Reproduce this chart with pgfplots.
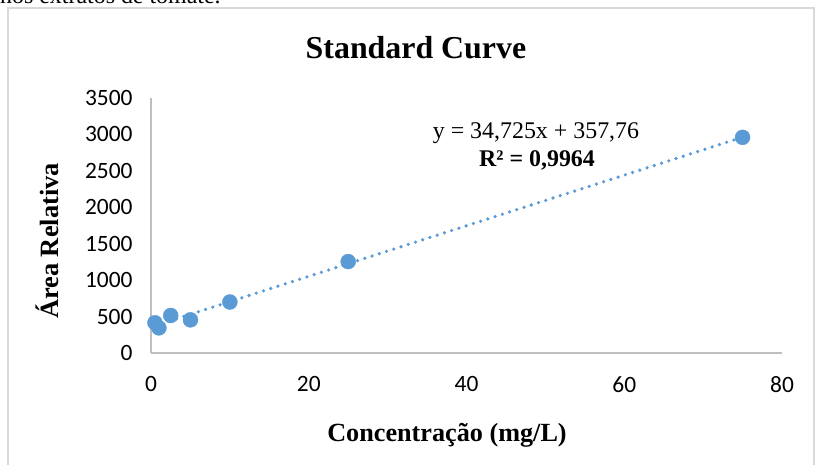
\documentclass[border=0pt]{standalone}
\usepackage{fontspec}
\setmainfont{Liberation Serif}
\newfontfamily\carlito{Carlito}
\usepackage{pgfplots}
\pgfplotsset{compat=1.18}
\definecolor{xlblue}{HTML}{5B9BD5}
\definecolor{axgray}{HTML}{BFBFBF}
\definecolor{framegray}{HTML}{D9D9D9}

\begin{document}
\begin{tikzpicture}
\begin{axis}[
  scale only axis,
  width=631bp, height=255bp,
  xmin=0, xmax=80, ymin=0, ymax=3500,
  xtick={0,20,...,80},
  ytick={0,500,...,3500},
  axis x line=bottom, axis y line=left,
  axis line style={axgray, line width=1.5bp, -},
  major tick length=0pt,
  /pgf/number format/assume math mode=true,
  /pgf/number format/1000 sep={},
  ticklabel style={font=\fontsize{23.5}{28}\selectfont\carlito, text=black},
  xticklabel style={yshift=-20bp},
  yticklabel style={xshift=-15bp},
  clip=false,
]
% trendline (Excel linear fit), drawn first so markers sit on top
\addplot[xlblue, line width=3.6bp, line cap=round,
  dash pattern=on 0pt off 7.6bp] coordinates {(0.5,375.12) (75,2962.14)};
\addplot[only marks, mark=*, mark size=7.5bp,
  mark options={fill=xlblue, draw=xlblue}] coordinates {
  (0.5,415) (1,345) (2.5,515) (5,455) (10,700) (25,1255) (75,2960)};
\end{axis}
% title, labels, equation
\node[font=\fontsize{32}{38}\selectfont\bfseries] at (265bp,305bp) {Standard Curve};
\node[font=\fontsize{26.3}{31}\selectfont\bfseries] at (296bp,-82bp) {Concentração (mg/L)};
\node[font=\fontsize{26.5}{31}\selectfont\bfseries, rotate=90] at (-104bp,112bp) {Área Relativa};
\node[font=\fontsize{24}{28}\selectfont] at (385bp,220bp) {y = 34,725x + 357,76};
\node[font=\fontsize{24}{28}\selectfont\bfseries] at (386bp,193bp) {R² = 0,9964};
% chart frame and text cut at the top
\draw[framegray, line width=1.5bp] (-143bp,-130bp) rectangle (663bp,345bp);
\node[anchor=base west, inner sep=0pt, font=\fontsize{24}{28}\selectfont] at (-151bp,349bp) {nos extratos de tomate.};
\pgfresetboundingbox
\useasboundingbox (-151bp,-112bp) rectangle (665bp,353bp);
\end{tikzpicture}
\end{document}
